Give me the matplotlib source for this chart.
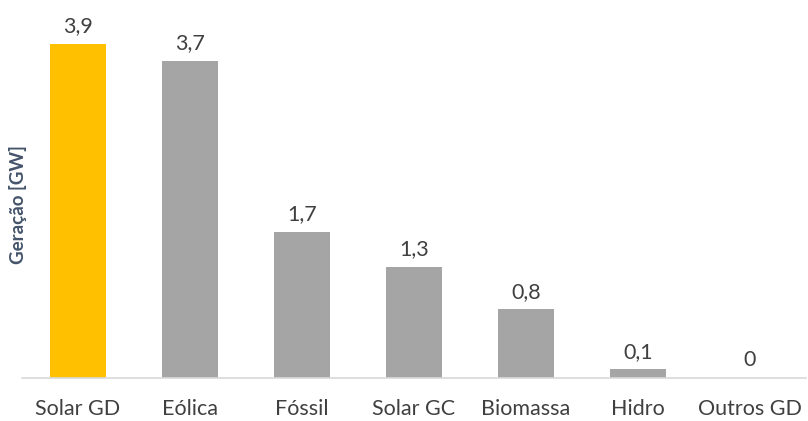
import matplotlib.pyplot as plt

categorias = ["Solar GD", "Eólica", "Fóssil", "Solar GC", "Biomassa", "Hidro", "Outros GD"]
geracao = [3.9, 3.7, 1.7, 1.3, 0.8, 0.1, 0.0]
rotulos = ["3,9", "3,7", "1,7", "1,3", "0,8", "0,1", "0"]
cores = ["#FFC000"] + ["#A5A5A5"] * 6

plt.rcParams['font.family'] = ['Lato', 'DejaVu Sans']

fig = plt.figure(figsize=(8.08, 4.21), dpi=100)
ax = fig.add_axes([22/808, 43/421, 784/808, 360/421])

x = range(len(categorias))
ax.bar(x, geracao, width=0.5, color=cores)
for i, (v, t) in enumerate(zip(geracao, rotulos)):
    ax.text(i, v + 0.09, t, ha="center", va="bottom", fontsize=15.5, color="#404040")

ax.set_xlim(-0.5, 6.5)
ax.set_ylim(0, 4.2)
ax.set_xticks(list(x))
ax.set_xticklabels(categorias, fontsize=15.5, color="#404040")
ax.tick_params(axis="x", length=0, pad=15)
ax.set_yticks([])
for s in ["top", "right", "left"]:
    ax.spines[s].set_visible(False)
ax.spines["bottom"].set_color("#D9D9D9")
ax.spines["bottom"].set_linewidth(1.2)

fig.text(18/808, 1 - 205/421, "Geração [GW]", rotation=90, ha="center", va="center",
         fontsize=13.5, fontweight="bold", color="#44546A")

fig.savefig("out.png", dpi=100)
